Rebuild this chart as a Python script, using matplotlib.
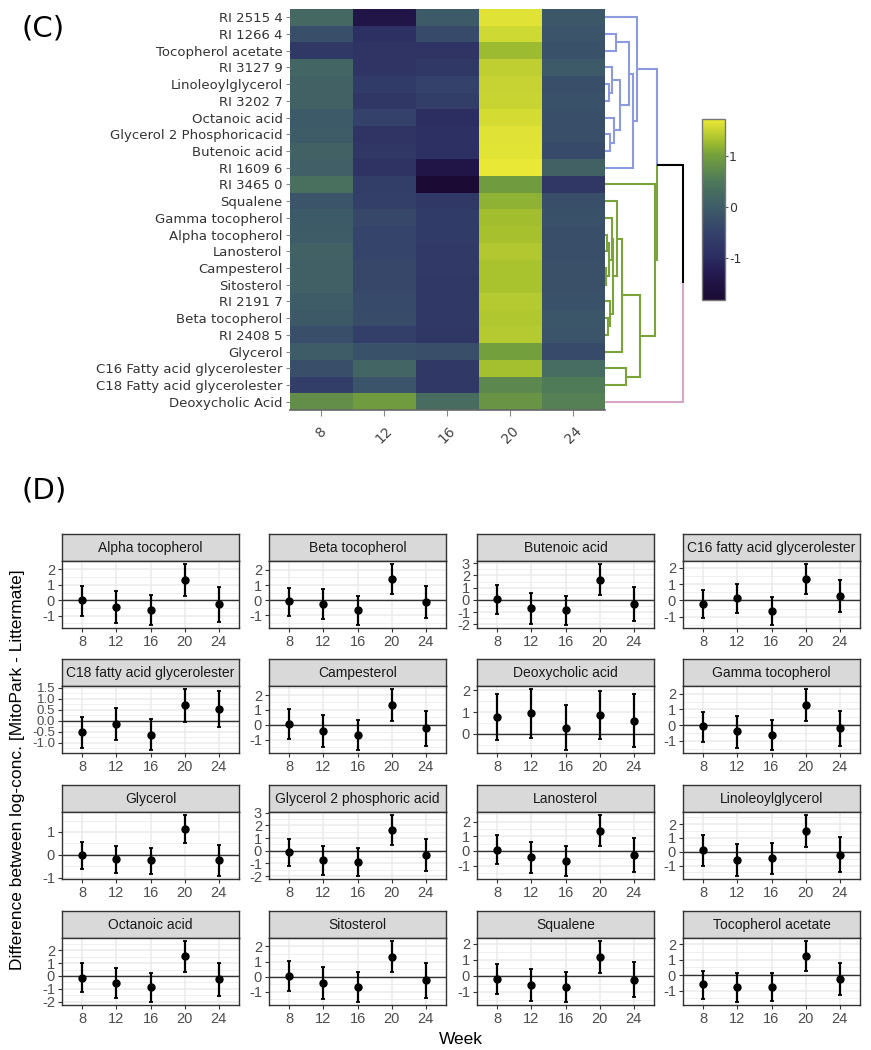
import numpy as np
import matplotlib
matplotlib.use('Agg')
import matplotlib.pyplot as plt
from matplotlib.colors import LinearSegmentedColormap
from matplotlib.ticker import MultipleLocator, FormatStrFormatter

plt.rcParams['axes.unicode_minus'] = False

# ---------------- data: heatmap (C) ----------------
metabolites = ["RI 2515 4", "RI 1266 4", "Tocopherol acetate", "RI 3127 9", "Linoleoylglycerol",
               "RI 3202 7", "Octanoic acid", "Glycerol 2 Phosphoricacid", "Butenoic acid", "RI 1609 6",
               "RI 3465 0", "Squalene", "Gamma tocopherol", "Alpha tocopherol", "Lanosterol",
               "Campesterol", "Sitosterol", "RI 2191 7", "Beta tocopherol", "RI 2408 5", "Glycerol",
               "C16 Fatty acid glycerolester", "C18 Fatty acid glycerolester", "Deoxycholic Acid"]
weeks = ["8", "12", "16", "20", "24"]
heat_w8 = [0.2, -0.25, -0.7, 0.15, 0.09, 0.1, -0.05, 0.0, 0.1, 0.05, 0.35, -0.15, -0.05, 0.0,
           0.09, 0.07, 0.07, 0.0, -0.06, -0.25, -0.01, -0.24, -0.6, 0.77]
heat_w12 = [-1.45, -0.9, -0.8, -0.8, -0.65, -0.75, -0.5, -0.8, -0.75, -0.85, -0.6, -0.57, -0.4,
            -0.44, -0.44, -0.4, -0.39, -0.35, -0.3, -0.55, -0.19, 0.15, -0.15, 0.95]
heat_w16 = [-0.05, -0.35, -0.8, -0.7, -0.5, -0.6, -0.95, -0.9, -0.9, -1.45, -1.8, -0.72, -0.65,
            -0.65, -0.67, -0.69, -0.7, -0.7, -0.72, -0.75, -0.24, -0.7, -0.7, 0.29]
heat_w20 = [1.65, 1.55, 1.25, 1.45, 1.49, 1.5, 1.58, 1.65, 1.66, 1.7, 0.95, 1.17, 1.28, 1.31,
            1.38, 1.33, 1.33, 1.4, 1.37, 1.4, 1.0, 1.3, 0.69, 0.86]
heat_w24 = [-0.1, -0.15, -0.2, -0.05, -0.24, -0.2, -0.26, -0.25, -0.35, 0.1, -0.75, -0.27, -0.19,
            -0.27, -0.27, -0.22, -0.22, -0.2, -0.13, -0.15, -0.35, 0.28, 0.53, 0.59]
colorbar_ticks = [-1, 0, 1]

# dendrogram (leaves are row indices 0..23, merges numbered from 24)
merge_left = [1, 4, 3, 7, 6, 26, 24, 30, 0, 13, 15, 33, 12, 18, 17, 36, 11, 40, 21, 41, 10, 32, 45]
merge_right = [2, 5, 25, 8, 27, 28, 29, 9, 31, 14, 16, 34, 35, 19, 37, 38, 39, 20, 22, 42, 43, 44, 23]
merge_height = [1.15, 0.4, 0.7, 0.55, 0.95, 1.55, 2.4, 2.8, 3.2, 0.25, 0.15, 0.45, 0.7, 0.3, 0.55,
                0.85, 1.2, 1.7, 2.15, 3.55, 5.05, 5.2, 7.85]
leaf_cluster = [0] * 10 + [1] * 13 + [2]
cluster_colors = ['#8c9ae0', '#7aa33a', '#d6a6c6']

# ---------------- data: faceted estimates (D) ----------------
panel_names = ["Alpha tocopherol", "Beta tocopherol", "Butenoic acid", "C16 fatty acid glycerolester",
               "C18 fatty acid glycerolester", "Campesterol", "Deoxycholic acid", "Gamma tocopherol",
               "Glycerol", "Glycerol 2 phosphoric acid", "Lanosterol", "Linoleoylglycerol",
               "Octanoic acid", "Sitosterol", "Squalene", "Tocopherol acetate"]
est = {
    "Alpha tocopherol": [0.0, -0.44, -0.63, 1.31, -0.27],
    "Beta tocopherol": [-0.06, -0.28, -0.66, 1.37, -0.13],
    "Butenoic acid": [0.08, -0.7, -0.86, 1.64, -0.35],
    "C16 fatty acid glycerolester": [-0.24, 0.12, -0.64, 1.3, 0.28],
    "C18 fatty acid glycerolester": [-0.51, -0.15, -0.65, 0.69, 0.53],
    "Campesterol": [0.07, -0.4, -0.69, 1.33, -0.22],
    "Deoxycholic acid": [0.77, 0.95, 0.29, 0.86, 0.59],
    "Gamma tocopherol": [-0.08, -0.4, -0.63, 1.28, -0.19],
    "Glycerol": [-0.01, -0.19, -0.24, 1.12, -0.24],
    "Glycerol 2 phosphoric acid": [-0.1, -0.75, -0.85, 1.62, -0.31],
    "Lanosterol": [0.09, -0.44, -0.67, 1.38, -0.27],
    "Linoleoylglycerol": [0.09, -0.57, -0.47, 1.49, -0.24],
    "Octanoic acid": [-0.13, -0.54, -0.9, 1.56, -0.26],
    "Sitosterol": [0.07, -0.39, -0.7, 1.33, -0.22],
    "Squalene": [-0.21, -0.57, -0.72, 1.17, -0.27],
    "Tocopherol acetate": [-0.6, -0.77, -0.77, 1.24, -0.26],
}
lower = {
    "Alpha tocopherol": [-1.0, -1.48, -1.61, 0.27, -1.39],
    "Beta tocopherol": [-1.03, -1.24, -1.63, 0.39, -1.2],
    "Butenoic acid": [-1.15, -2.0, -2.06, 0.38, -1.74],
    "C16 fatty acid glycerolester": [-1.1, -0.8, -1.5, 0.42, -0.7],
    "C18 fatty acid glycerolester": [-1.23, -0.87, -1.34, -0.05, -0.31],
    "Campesterol": [-0.96, -1.51, -1.69, 0.24, -1.4],
    "Deoxycholic acid": [-0.26, -0.18, -0.74, -0.23, -0.62],
    "Gamma tocopherol": [-1.05, -1.45, -1.57, 0.27, -1.3],
    "Glycerol": [-0.6, -0.81, -0.83, 0.52, -0.92],
    "Glycerol 2 phosphoric acid": [-1.21, -1.93, -1.98, 0.46, -1.57],
    "Lanosterol": [-0.91, -1.51, -1.71, 0.33, -1.42],
    "Linoleoylglycerol": [-1.0, -1.75, -1.58, 0.33, -1.49],
    "Octanoic acid": [-1.26, -1.74, -2.03, 0.33, -1.59],
    "Sitosterol": [-0.93, -1.46, -1.67, 0.28, -1.39],
    "Squalene": [-1.17, -1.58, -1.64, 0.18, -1.36],
    "Tocopherol acetate": [-1.54, -1.73, -1.67, 0.26, -1.31],
}
upper = {
    "Alpha tocopherol": [0.93, 0.57, 0.32, 2.35, 0.83],
    "Beta tocopherol": [0.83, 0.71, 0.26, 2.38, 0.96],
    "Butenoic acid": [1.23, 0.56, 0.32, 2.94, 1.05],
    "C16 fatty acid glycerolester": [0.62, 1.02, 0.22, 2.22, 1.26],
    "C18 fatty acid glycerolester": [0.18, 0.59, 0.06, 1.44, 1.36],
    "Campesterol": [1.04, 0.67, 0.33, 2.4, 0.93],
    "Deoxycholic acid": [1.83, 2.06, 1.33, 1.97, 1.83],
    "Gamma tocopherol": [0.86, 0.59, 0.31, 2.29, 0.9],
    "Glycerol": [0.55, 0.4, 0.32, 1.74, 0.43],
    "Glycerol 2 phosphoric acid": [0.95, 0.41, 0.23, 2.81, 0.95],
    "Lanosterol": [1.07, 0.62, 0.33, 2.44, 0.89],
    "Linoleoylglycerol": [1.18, 0.59, 0.61, 2.65, 1.04],
    "Octanoic acid": [0.97, 0.64, 0.26, 2.72, 1.03],
    "Sitosterol": [1.02, 0.65, 0.3, 2.35, 0.91],
    "Squalene": [0.72, 0.41, 0.25, 2.16, 0.84],
    "Tocopherol acetate": [0.28, 0.17, 0.15, 2.21, 0.81],
}
ytick_step = {name: 1.0 for name in panel_names}
ytick_step["C18 fatty acid glycerolester"] = 0.5

# ---------------- figure ----------------
W, H = 871, 1050
fig = plt.figure(figsize=(W / 100, H / 100), dpi=100)


def rect(x0, y0, x1, y1):
    return [x0 / W, 1 - y1 / H, (x1 - x0) / W, (y1 - y0) / H]


cmap = LinearSegmentedColormap.from_list("hm", [
    (0.00, "#1b0b33"), (0.15, "#241a50"), (0.23, "#2b2c60"), (0.37, "#34416a"),
    (0.515, "#3e5c68"), (0.66, "#4f7a5a"), (0.80, "#74a03c"), (0.88, "#a3bf2e"),
    (1.00, "#ece936")])
vmin, vmax = -1.82, 1.72

heat = np.column_stack([heat_w8, heat_w12, heat_w16, heat_w20, heat_w24])
hax = fig.add_axes(rect(289.5, 9, 604.5, 410))
mesh = hax.pcolormesh(np.arange(len(weeks) + 1), np.arange(len(metabolites) + 1), heat,
                      cmap=cmap, vmin=vmin, vmax=vmax)
hax.set_ylim(len(metabolites), 0)
hax.set_xlim(0, len(weeks))
hax.set_yticks(np.arange(len(metabolites)) + 0.5)
hax.set_yticklabels(metabolites, fontsize=9.5, color='#333333', family='DejaVu Sans')
hax.set_xticks(np.arange(len(weeks)) + 0.5)
hax.set_xticklabels(weeks, fontsize=10, color='#444444', rotation=45, ha='center', va='top')
hax.tick_params(axis='y', length=3, width=0.8, color='#888888', pad=2)
hax.tick_params(axis='x', length=4, width=0.8, color='#888888', pad=6)
for s in ['top', 'right', 'left']:
    hax.spines[s].set_visible(False)
hax.spines['bottom'].set_color('#666666')
hax.spines['bottom'].set_linewidth(1.2)

# dendrogram
dax = fig.add_axes(rect(604.5, 9, 690, 410), sharey=hax)
node_y = [i + 0.5 for i in range(len(metabolites))]
node_h = [0.0] * len(metabolites)
node_cl = list(leaf_cluster)
for a, b, h in zip(merge_left, merge_right, merge_height):
    ym = (node_y[a] + node_y[b]) / 2
    for c in (a, b):
        col = 'black' if node_cl[c] is None else cluster_colors[node_cl[c]]
        dax.plot([h, h, node_h[c]], [ym, node_y[c], node_y[c]], color=col, lw=1.5,
                 solid_capstyle='butt', solid_joinstyle='miter')
    node_y.append(ym)
    node_h.append(h)
    node_cl.append(node_cl[a] if node_cl[a] == node_cl[b] else None)
dax.set_xlim(0, 8.55)
dax.axis('off')

# colorbar
cax = fig.add_axes(rect(702, 119, 725, 300))
cb = fig.colorbar(mesh, cax=cax, ticks=colorbar_ticks)
cb.ax.set_yticklabels([str(t) for t in colorbar_ticks], fontsize=9, color='#333333')
cb.ax.tick_params(length=2, width=0.8, color='#555555', pad=1)
cb.outline.set_edgecolor('#777777')
cb.outline.set_linewidth(1)

fig.text(22 / W, 1 - 28 / H, "(C)", fontsize=21, ha='left', va='center', family='DejaVu Sans')
fig.text(22 / W, 1 - 490 / H, "(D)", fontsize=21, ha='left', va='center', family='DejaVu Sans')

# ---------------- facets ----------------
col_x = [62, 269, 477, 683]
row_y = [534, 659, 785, 911]
pw, sh, ph = 177, 27, 67
xpos = np.arange(1, len(weeks) + 1)
for k, name in enumerate(panel_names):
    r, c = divmod(k, 4)
    x0, y0 = col_x[c], row_y[r]
    sax = fig.add_axes(rect(x0, y0, x0 + pw, y0 + sh))
    sax.set_facecolor('#d9d9d9')
    sax.set_xticks([])
    sax.set_yticks([])
    for s in sax.spines.values():
        s.set_color('#333333')
        s.set_linewidth(1)
    sax.text(0.5, 0.47, name, ha='center', va='center', fontsize=10, color='#1a1a1a',
             family='Liberation Sans', transform=sax.transAxes)

    ax = fig.add_axes(rect(x0, y0 + sh, x0 + pw, y0 + sh + ph))
    e = np.array(est[name])
    lo = np.array(lower[name])
    hi = np.array(upper[name])
    ax.set_axisbelow(True)
    ax.axhline(0, color='#333333', lw=1.0, zorder=2)
    ax.errorbar(xpos, e, yerr=[e - lo, hi - e], fmt='o', color='black', ms=5,
                elinewidth=1.6, capsize=1.6, capthick=1.3, zorder=3)
    ymin, ymax = lo.min(), hi.max()
    pad = 0.05 * (ymax - ymin)
    ax.set_ylim(ymin - pad, ymax + pad)
    ax.set_xlim(0.4, len(weeks) + 0.6)
    step = ytick_step[name]
    ax.yaxis.set_major_locator(MultipleLocator(step))
    ax.yaxis.set_minor_locator(MultipleLocator(step / 2))
    if step < 1:
        ax.yaxis.set_major_formatter(FormatStrFormatter('%.1f'))
    else:
        ax.yaxis.set_major_formatter(FormatStrFormatter('%d'))
    ax.set_xticks(xpos)
    ax.set_xticklabels(weeks)
    ax.grid(which='major', color='#ebebeb', lw=1.1)
    ax.grid(which='minor', axis='y', color='#ebebeb', lw=0.55)
    ax.tick_params(which='major', length=3, width=0.8, color='#333333', labelcolor='#4d4d4d',
                   labelsize=10.5, pad=2)
    ax.tick_params(which='minor', length=0)
    for lab in ax.get_xticklabels() + ax.get_yticklabels():
        lab.set_family('Liberation Sans')
    if step < 1:
        for lab in ax.get_yticklabels():
            lab.set_fontsize(9.5)
    for s in ax.spines.values():
        s.set_color('#333333')
        s.set_linewidth(1)

fig.text(18 / W, 1 - 770 / H, "Difference between log-conc. [MitoPark - Littermate]", rotation=90,
         ha='center', va='center', fontsize=12.5, family='Liberation Sans', color='black')
fig.text(461 / W, 1 - 1040 / H, "Week", ha='center', va='center', fontsize=12.5,
         family='Liberation Sans', color='black')

fig.savefig("out.png", dpi=100)
